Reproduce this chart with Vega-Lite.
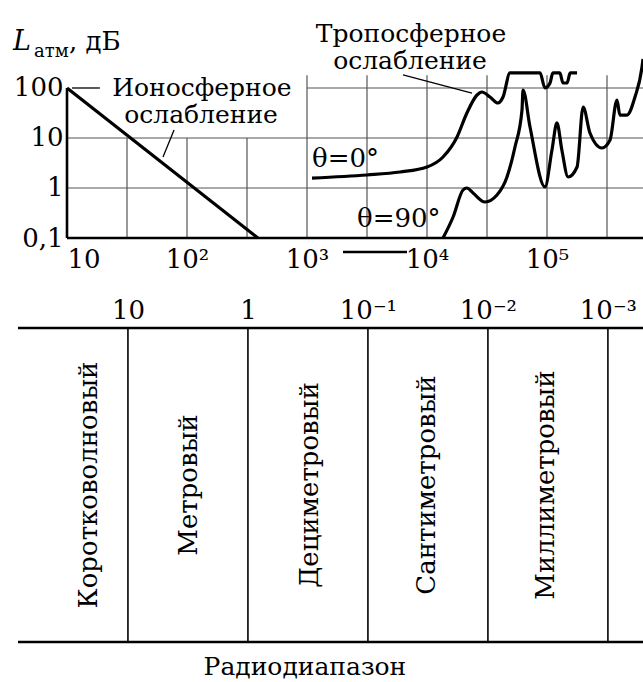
{
  "$schema": "https://vega.github.io/schema/vega-lite/v6.json",
  "autosize": {"type": "pad"},
  "padding": {"left": 13, "top": 21, "right": 0, "bottom": 0},
  "background": "white",
  "config": {"view": {"stroke": null}, "font": "DejaVu Serif", "axis": {"labelFont": "DejaVu Serif", "labelColor": "black"}},
  "datasets": {
    "curves": [
      {"curve": "iono", "i": 0, "f": 10, "L": 100},
      {"curve": "iono", "i": 1, "f": 390, "L": 0.1},
      {"curve": "t0", "i": 0, "f": 1101, "L": 1.58},
      {"curve": "t0", "i": 1, "f": 3162, "L": 1.82},
      {"curve": "t0", "i": 2, "f": 5957, "L": 2.09},
      {"curve": "t0", "i": 3, "f": 10000, "L": 2.63},
      {"curve": "t0", "i": 4, "f": 13600, "L": 4.17},
      {"curve": "t0", "i": 5, "f": 17800, "L": 10.5},
      {"curve": "t0", "i": 6, "f": 21500, "L": 31.6},
      {"curve": "t0", "i": 7, "f": 26100, "L": 72.4},
      {"curve": "t0", "i": 8, "f": 28700, "L": 83.2},
      {"curve": "t0", "i": 9, "f": 33500, "L": 66.1},
      {"curve": "t0", "i": 10, "f": 39000, "L": 50.1},
      {"curve": "t0", "i": 11, "f": 43000, "L": 66.1},
      {"curve": "t0", "i": 12, "f": 49200, "L": 200},
      {"curve": "t0", "i": 13, "f": 87500, "L": 200},
      {"curve": "t0", "i": 14, "f": 96200, "L": 100},
      {"curve": "t0", "i": 15, "f": 106000, "L": 126},
      {"curve": "t0", "i": 16, "f": 112000, "L": 200},
      {"curve": "t0", "i": 17, "f": 128000, "L": 200},
      {"curve": "t0", "i": 18, "f": 136000, "L": 126},
      {"curve": "t0", "i": 19, "f": 147000, "L": 126},
      {"curve": "t0", "i": 20, "f": 156000, "L": 200},
      {"curve": "t0", "i": 21, "f": 178000, "L": 200},
      {"curve": "t90", "i": 0, "f": 13600, "L": 0.1},
      {"curve": "t90", "i": 1, "f": 16500, "L": 0.263},
      {"curve": "t90", "i": 2, "f": 19950, "L": 0.912},
      {"curve": "t90", "i": 3, "f": 21500, "L": 1.0},
      {"curve": "t90", "i": 4, "f": 24200, "L": 0.794},
      {"curve": "t90", "i": 5, "f": 30400, "L": 0.525},
      {"curve": "t90", "i": 6, "f": 38300, "L": 0.724},
      {"curve": "t90", "i": 7, "f": 46400, "L": 1.66},
      {"curve": "t90", "i": 8, "f": 54100, "L": 6.61},
      {"curve": "t90", "i": 9, "f": 61900, "L": 36.3},
      {"curve": "t90", "i": 10, "f": 63100, "L": 91.2},
      {"curve": "t90", "i": 11, "f": 72200, "L": 16.6},
      {"curve": "t90", "i": 12, "f": 96200, "L": 1.05},
      {"curve": "t90", "i": 13, "f": 110000, "L": 5.75},
      {"curve": "t90", "i": 14, "f": 121000, "L": 20.0},
      {"curve": "t90", "i": 15, "f": 133000, "L": 5.75},
      {"curve": "t90", "i": 16, "f": 150000, "L": 1.66},
      {"curve": "t90", "i": 17, "f": 178000, "L": 2.63},
      {"curve": "t90", "i": 18, "f": 200000, "L": 41.7},
      {"curve": "t90", "i": 19, "f": 228000, "L": 12.6},
      {"curve": "t90", "i": 20, "f": 287000, "L": 6.31},
      {"curve": "t90", "i": 21, "f": 335000, "L": 9.12},
      {"curve": "t90", "i": 22, "f": 383000, "L": 57.5},
      {"curve": "t90", "i": 23, "f": 405000, "L": 28.8},
      {"curve": "t90", "i": 24, "f": 464000, "L": 28.8},
      {"curve": "t90", "i": 25, "f": 541000, "L": 66.1},
      {"curve": "t90", "i": 26, "f": 619000, "L": 263},
      {"curve": "t90", "i": 27, "f": 631000, "L": 380}
    ],
    "segs": [
      {"kind": "grid", "f": 31.62, "L": 0.1, "f2": 31.62, "L2": 10},
      {"kind": "grid", "f": 100, "L": 0.1, "f2": 100, "L2": 10},
      {"kind": "grid", "f": 316.2, "L": 0.1, "f2": 316.2, "L2": 10},
      {"kind": "grid", "f": 1000, "L": 0.1, "f2": 1000, "L2": 180},
      {"kind": "grid", "f": 3162, "L": 0.1, "f2": 3162, "L2": 180},
      {"kind": "grid", "f": 10000, "L": 0.1, "f2": 10000, "L2": 180},
      {"kind": "grid", "f": 31623, "L": 0.1, "f2": 31623, "L2": 180},
      {"kind": "grid", "f": 100000, "L": 0.1, "f2": 100000, "L2": 180},
      {"kind": "grid", "f": 316228, "L": 0.1, "f2": 316228, "L2": 180},
      {"kind": "grid", "f": 1000, "L": 100, "f2": 631000, "L2": 100},
      {"kind": "grid", "f": 10, "L": 10, "f2": 631000, "L2": 10},
      {"kind": "grid", "f": 10, "L": 1, "f2": 631000, "L2": 1},
      {"kind": "axis", "f": 10, "L": 0.1, "f2": 10, "L2": 100},
      {"kind": "axis", "f": 10, "L": 0.1, "f2": 631000, "L2": 0.1},
      {"kind": "axis", "f": 1995, "L": 0.0525, "f2": 6810, "L2": 0.0525},
      {"kind": "leader", "f": 11, "L": 100, "f2": 18.8, "L2": 100},
      {"kind": "leader", "f": 78, "L": 14.5, "f2": 63.1, "L2": 4.17},
      {"kind": "leader", "f": 6310, "L": 182, "f2": 23700, "L2": 79.4}
    ],
    "notes": [
      {"kind": "c", "f": 133, "L": 70.5, "text": "Ионосферное"},
      {"kind": "c", "f": 131, "L": 19.5, "text": "ослабление"},
      {"kind": "c", "f": 7360, "L": 850, "text": "Тропосферное"},
      {"kind": "c", "f": 7220, "L": 245, "text": "ослабление"},
      {"kind": "l", "f": 1101, "L": 2.63, "text": "θ=0°"},
      {"kind": "l", "f": 2610, "L": 0.166, "text": "θ=90°"},
      {"kind": "sym", "f": 3.55, "L": 575, "text": "L"},
      {"kind": "sub", "f": 5.31, "L": 417, "text": "атм"},
      {"kind": "unit", "f": 10.4, "L": 575, "text": ", дБ"}
    ],
    "tsegs": [
      {"kind": "h", "lam": 82.5, "v": 1, "lam2": 0.00051, "v2": 1},
      {"kind": "h", "lam": 82.5, "v": 0, "lam2": 0.00051, "v2": 0},
      {"kind": "v", "lam": 10, "v": 0, "lam2": 10, "v2": 1},
      {"kind": "v", "lam": 1, "v": 0, "lam2": 1, "v2": 1},
      {"kind": "v", "lam": 0.1, "v": 0, "lam2": 0.1, "v2": 1},
      {"kind": "v", "lam": 0.01, "v": 0, "lam2": 0.01, "v2": 1},
      {"kind": "v", "lam": 0.001, "v": 0, "lam2": 0.001, "v2": 1}
    ],
    "tnotes": [
      {"kind": "band", "lam": 21.1, "v": 0.5, "text": "Коротковолновый"},
      {"kind": "band", "lam": 3.10, "v": 0.5, "text": "Метровый"},
      {"kind": "band", "lam": 0.304, "v": 0.5, "text": "Дециметровый"},
      {"kind": "band", "lam": 0.0322, "v": 0.5, "text": "Сантиметровый"},
      {"kind": "band", "lam": 0.00329, "v": 0.5, "text": "Миллиметровый"},
      {"kind": "title", "lam": 0.335, "v": -0.08, "text": "Радиодиапазон"}
    ]
  },
  "bounds": "flush",
  "spacing": 90,
  "vconcat": [
    {
      "width": 576,
      "height": 180,
      "layer": [
        {
          "data": {"name": "segs"},
          "transform": [{"filter": "datum.kind == 'grid'"}],
          "mark": {"type": "rule", "stroke": "#555555", "strokeWidth": 1.2},
          "encoding": {
            "x": {"field": "f", "type": "quantitative",
              "scale": {"type": "log", "domain": [10, 631000], "nice": false},
              "axis": {"title": null, "values": [10, 100, 1000, 10000, 100000],
                "labelExpr": "datum.value < 50 ? '10' : datum.value < 500 ? '10²' : datum.value < 5000 ? '10³' : datum.value < 50000 ? '10⁴' : '10⁵'",
                "grid": false, "ticks": false, "domain": false, "labelFontSize": 26, "labelPadding": 8, "labelFlush": true, "labelOverlap": false}},
            "x2": {"field": "f2"},
            "y": {"field": "L", "type": "quantitative",
              "scale": {"type": "log", "domain": [0.1, 398], "nice": false},
              "axis": {"title": null, "values": [0.1, 1, 10, 100],
                "labelExpr": "datum.value < 0.5 ? '0,1' : datum.value < 5 ? '1' : datum.value < 50 ? '10' : '100'",
                "grid": false, "ticks": false, "domain": false, "labelFontSize": 26, "labelPadding": 4, "labelOverlap": false}},
            "y2": {"field": "L2"}
          }
        },
        {
          "data": {"name": "segs"},
          "transform": [{"filter": "datum.kind == 'axis'"}],
          "mark": {"type": "rule", "stroke": "black", "strokeWidth": 2.6},
          "encoding": {
            "x": {"field": "f", "type": "quantitative"},
            "x2": {"field": "f2"},
            "y": {"field": "L", "type": "quantitative"},
            "y2": {"field": "L2"}
          }
        },
        {
          "data": {"name": "segs"},
          "transform": [{"filter": "datum.kind == 'leader'"}],
          "mark": {"type": "rule", "stroke": "black", "strokeWidth": 1.3},
          "encoding": {
            "x": {"field": "f", "type": "quantitative"},
            "x2": {"field": "f2"},
            "y": {"field": "L", "type": "quantitative"},
            "y2": {"field": "L2"}
          }
        },
        {
          "data": {"name": "curves"},
          "mark": {"type": "line", "interpolate": "monotone", "stroke": "black", "strokeWidth": 3.2},
          "encoding": {
            "x": {"field": "f", "type": "quantitative"},
            "y": {"field": "L", "type": "quantitative"},
            "detail": {"field": "curve"},
            "order": {"field": "i", "type": "quantitative"}
          }
        },
        {
          "data": {"name": "notes"},
          "transform": [{"filter": "datum.kind == 'c'"}],
          "mark": {"type": "text", "align": "center", "baseline": "alphabetic", "fontSize": 25, "font": "DejaVu Serif", "color": "black"},
          "encoding": {
            "x": {"field": "f", "type": "quantitative"},
            "y": {"field": "L", "type": "quantitative"},
            "text": {"field": "text"}
          }
        },
        {
          "data": {"name": "notes"},
          "transform": [{"filter": "datum.kind == 'l' || datum.kind == 'unit'"}],
          "mark": {"type": "text", "align": "left", "baseline": "alphabetic", "fontSize": 26, "font": "DejaVu Serif", "color": "black"},
          "encoding": {
            "x": {"field": "f", "type": "quantitative"},
            "y": {"field": "L", "type": "quantitative"},
            "text": {"field": "text"}
          }
        },
        {
          "data": {"name": "notes"},
          "transform": [{"filter": "datum.kind == 'sym'"}],
          "mark": {"type": "text", "align": "left", "baseline": "alphabetic", "fontSize": 27, "fontStyle": "italic", "font": "DejaVu Serif", "color": "black"},
          "encoding": {
            "x": {"field": "f", "type": "quantitative"},
            "y": {"field": "L", "type": "quantitative"},
            "text": {"field": "text"}
          }
        },
        {
          "data": {"name": "notes"},
          "transform": [{"filter": "datum.kind == 'sub'"}],
          "mark": {"type": "text", "align": "left", "baseline": "alphabetic", "fontSize": 18, "font": "DejaVu Serif", "color": "black"},
          "encoding": {
            "x": {"field": "f", "type": "quantitative"},
            "y": {"field": "L", "type": "quantitative"},
            "text": {"field": "text"}
          }
        }
      ]
    },
    {
      "width": 576,
      "height": 314,
      "layer": [
        {
          "data": {"name": "tsegs"},
          "transform": [{"filter": "datum.kind == 'h'"}],
          "mark": {"type": "rule", "stroke": "black", "strokeWidth": 2.6},
          "encoding": {
            "x": {"field": "lam", "type": "quantitative",
              "scale": {"type": "log", "domain": [0.00051, 32.2], "reverse": true, "nice": false},
              "axis": {"orient": "top", "title": null, "values": [10, 1, 0.1, 0.01, 0.001],
                "labelExpr": "datum.value > 5 ? '10' : datum.value > 0.5 ? '1' : datum.value > 0.05 ? '10⁻¹' : datum.value > 0.005 ? '10⁻²' : '10⁻³'",
                "grid": false, "ticks": false, "domain": false, "labelFontSize": 26, "labelPadding": 5, "labelOverlap": false, "labelFlush": false}},
            "x2": {"field": "lam2"},
            "y": {"field": "v", "type": "quantitative", "scale": {"domain": [0, 1], "nice": false}, "axis": null},
            "y2": {"field": "v2"}
          }
        },
        {
          "data": {"name": "tsegs"},
          "transform": [{"filter": "datum.kind == 'v'"}],
          "mark": {"type": "rule", "stroke": "black", "strokeWidth": 1.6},
          "encoding": {
            "x": {"field": "lam", "type": "quantitative"},
            "x2": {"field": "lam2"},
            "y": {"field": "v", "type": "quantitative"},
            "y2": {"field": "v2"}
          }
        },
        {
          "data": {"name": "tnotes"},
          "transform": [{"filter": "datum.kind == 'band'"}],
          "mark": {"type": "text", "angle": 270, "align": "center", "baseline": "middle", "fontSize": 26, "font": "DejaVu Serif", "color": "black"},
          "encoding": {
            "x": {"field": "lam", "type": "quantitative"},
            "y": {"field": "v", "type": "quantitative"},
            "text": {"field": "text"}
          }
        },
        {
          "data": {"name": "tnotes"},
          "transform": [{"filter": "datum.kind == 'title'"}],
          "mark": {"type": "text", "align": "center", "baseline": "middle", "fontSize": 25, "font": "DejaVu Serif", "color": "black"},
          "encoding": {
            "x": {"field": "lam", "type": "quantitative"},
            "y": {"field": "v", "type": "quantitative"},
            "text": {"field": "text"}
          }
        }
      ]
    }
  ]
}
